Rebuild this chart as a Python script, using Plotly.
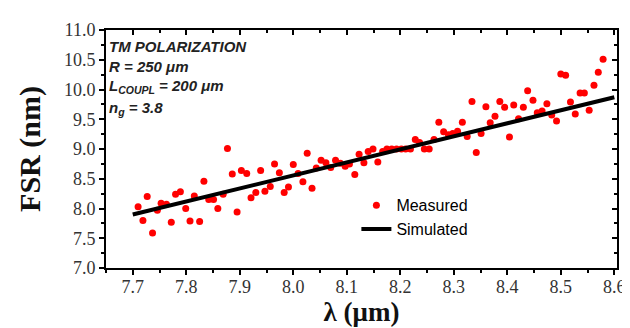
import plotly.graph_objects as go

# Measured FSR data (wavelength in µm, FSR in nm)
wavelength = [7.710, 7.719, 7.727, 7.737, 7.746, 7.753, 7.763, 7.772, 7.780, 7.789,
              7.799, 7.807, 7.815, 7.825, 7.833, 7.842, 7.851, 7.859, 7.869, 7.877,
              7.886, 7.895, 7.903, 7.913, 7.921, 7.930, 7.939, 7.947, 7.957, 7.965,
              7.974, 7.983, 7.991, 8.000, 8.009, 8.018, 8.026, 8.035, 8.043, 8.052,
              8.061, 8.070, 8.079, 8.088, 8.097, 8.105, 8.115, 8.123, 8.132, 8.140,
              8.149, 8.158, 8.167, 8.175, 8.184, 8.193, 8.202, 8.210, 8.219, 8.228,
              8.236, 8.245, 8.254, 8.263, 8.272, 8.281, 8.290, 8.298, 8.307, 8.316,
              8.325, 8.334, 8.342, 8.351, 8.360, 8.368, 8.377, 8.386, 8.395, 8.404,
              8.412, 8.421, 8.430, 8.438, 8.448, 8.456, 8.465, 8.474, 8.483, 8.492,
              8.500, 8.509, 8.518, 8.527, 8.536, 8.544, 8.553, 8.562, 8.570, 8.579]
fsr_measured = [8.03, 7.80, 8.20, 7.59, 7.97, 8.09, 8.07, 7.77, 8.24, 8.28,
                8.00, 7.79, 8.21, 7.78, 8.46, 8.15, 8.15, 8.00, 8.24, 9.01,
                8.58, 7.94, 8.64, 8.59, 8.18, 8.27, 8.64, 8.29, 8.37, 8.75,
                8.60, 8.27, 8.36, 8.74, 8.59, 8.45, 8.93, 8.34, 8.68, 8.81,
                8.77, 8.69, 8.81, 8.76, 8.71, 8.75, 8.57, 8.91, 8.77, 8.96,
                9.00, 8.78, 8.96, 9.00, 9.00, 9.00, 9.00, 9.00, 9.00, 9.16,
                9.11, 9.00, 9.00, 9.16, 9.45, 9.29, 9.24, 9.26, 9.30, 9.45,
                9.21, 9.80, 8.94, 9.26, 9.71, 9.44, 9.55, 9.80, 9.70, 9.20,
                9.74, 9.51, 9.70, 9.98, 9.82, 9.61, 9.64, 9.76, 9.57, 9.47,
                10.26, 10.24, 9.79, 9.59, 9.94, 9.94, 9.65, 10.07, 10.29, 10.51]

# Simulated curve (straight line)
wavelength_sim = [7.70, 8.60]
fsr_simulated = [7.90, 9.87]

x_ticks = [7.7, 7.8, 7.9, 8.0, 8.1, 8.2, 8.3, 8.4, 8.5, 8.6]
y_ticks = [7.0, 7.5, 8.0, 8.5, 9.0, 9.5, 10.0, 10.5, 11.0]

x_range = [7.65, 8.605]
y_range = [7.0, 11.0]

fig = go.Figure()
fig.add_trace(go.Scatter(
    x=wavelength, y=fsr_measured, mode="markers", name="Measured",
    marker=dict(color="#ff0000", size=7, line=dict(width=0)),
))
fig.add_trace(go.Scatter(
    x=wavelength_sim, y=fsr_simulated, mode="lines", name="Simulated",
    line=dict(color="black", width=4),
))
# empty trace so the mirrored (top/right) axes get drawn
fig.add_trace(go.Scatter(x=[], y=[], xaxis="x2", yaxis="y2", showlegend=False,
                         hoverinfo="skip"))

tick_font = dict(family="Liberation Serif", size=18, color="#333333")

fig.update_layout(
    width=630, height=328,
    margin=dict(l=98, r=18, t=15, b=68),
    paper_bgcolor="white", plot_bgcolor="white",
    showlegend=True,
    legend=dict(
        x=0.49, y=0.335, xanchor="left", yanchor="top",
        font=dict(family="Liberation Sans", size=16, color="black"),
        bgcolor="rgba(0,0,0,0)", tracegroupgap=0,
    ),
    xaxis=dict(
        range=x_range, tickvals=x_ticks, ticktext=[f"{v:.1f}" for v in x_ticks],
        ticks="outside", ticklen=5, tickwidth=1.5, tickcolor="black",
        ticklabelstandoff=-4,
        minor=dict(dtick=0.05, tick0=7.65, ticks="outside", ticklen=3,
                   tickwidth=1.5, tickcolor="black"),
        showline=True, linewidth=2, linecolor="black", mirror=False,
        showgrid=False, zeroline=False, tickfont=tick_font,
        title=dict(text="<b>λ (μm)</b>", standoff=2,
                   font=dict(family="Liberation Serif", size=27, color="#111111")),
    ),
    yaxis=dict(
        range=y_range, tickvals=y_ticks, ticktext=[f"{v:.1f}" for v in y_ticks],
        ticks="outside", ticklen=5, tickwidth=1.5, tickcolor="black",
        minor=dict(dtick=0.25, tick0=7.0, ticks="outside", ticklen=3,
                   tickwidth=1.5, tickcolor="black"),
        showline=True, linewidth=2, linecolor="black", mirror=False,
        showgrid=False, zeroline=False, tickfont=tick_font,
        title=dict(text="<b>FSR (nm)</b>", standoff=14,
                   font=dict(family="Liberation Serif", size=30, color="#111111")),
    ),
    xaxis2=dict(
        range=x_range, overlaying="x", side="top", anchor="y",
        tickvals=x_ticks, showticklabels=False,
        ticks="inside", ticklen=5, tickwidth=1.5, tickcolor="black",
        minor=dict(dtick=0.05, tick0=7.65, ticks="inside", ticklen=3,
                   tickwidth=1.5, tickcolor="black"),
        showline=True, linewidth=2, linecolor="black",
        showgrid=False, zeroline=False,
    ),
    yaxis2=dict(
        range=y_range, overlaying="y", side="right", anchor="x",
        tickvals=y_ticks, showticklabels=False,
        ticks="inside", ticklen=5, tickwidth=1.5, tickcolor="black",
        minor=dict(dtick=0.25, tick0=7.0, ticks="inside", ticklen=3,
                   tickwidth=1.5, tickcolor="black"),
        showline=True, linewidth=2, linecolor="black",
        showgrid=False, zeroline=False,
    ),
)

info_lines = [
    "TM POLARIZATION",
    "R = 250 μm",
    "L<sub>COUPL</sub> = 200 μm",
    "n<sub>g</sub> = 3.8",
]
info_y_px = [31.5, 52.5, 73.5, 96.0]
plot_top, plot_bottom = 15, 260
for text, ypx in zip(info_lines, info_y_px):
    fig.add_annotation(
        text=f"<b><i>{text}</i></b>", xref="paper", yref="paper",
        x=0.002, y=(plot_bottom - ypx) / (plot_bottom - plot_top),
        xanchor="left", yanchor="middle", showarrow=False,
        font=dict(family="Liberation Sans", size=15, color="#222222"),
    )

fig.write_html("out.html")
